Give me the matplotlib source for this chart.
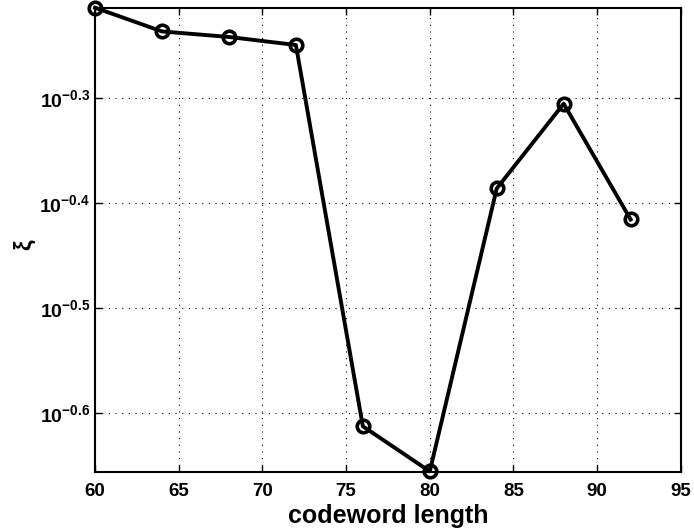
import matplotlib
matplotlib.use('Agg')
import matplotlib.pyplot as plt
import numpy as np

# data
codeword_length = [60, 64, 68, 72, 76, 80, 84, 88, 92]
xi = [0.611, 0.580, 0.573, 0.563, 0.244, 0.221, 0.411, 0.495, 0.384]

xticks = [60, 65, 70, 75, 80, 85, 90, 95]
yexp = [-0.3, -0.4, -0.5, -0.6]
ylabels = [r'$\mathbf{10^{%s}}$' % e for e in ['-0.3', '-0.4', '-0.5', '-0.6']]

plt.rcParams['font.family'] = ['Liberation Sans', 'DejaVu Sans']
plt.rcParams['mathtext.fontset'] = 'custom'
plt.rcParams['mathtext.rm'] = 'Liberation Sans'
plt.rcParams['mathtext.bf'] = 'Liberation Sans:bold'

fig = plt.figure(figsize=(6.94, 5.30), dpi=100)
ax = fig.add_axes([0.137, 0.1094, 0.844, 0.8764])

ax.plot(codeword_length, xi, color='black', linewidth=2.8,
        marker='o', markersize=9, markerfacecolor='none',
        markeredgewidth=2.6, clip_on=False, zorder=3)

ax.set_yscale('log')
ax.set_xlim(60, 95)
ax.set_ylim(10 ** -0.6562, 10 ** -0.2138)
ax.set_xticks(xticks)
ax.set_xticklabels([str(t) for t in xticks], fontsize=13.5, fontweight='bold')
ax.set_yticks([10 ** e for e in yexp])
ax.set_yticklabels(ylabels, fontsize=14)
ax.yaxis.set_minor_locator(matplotlib.ticker.NullLocator())

ax.tick_params(direction='in', top=True, right=True, length=5, width=1)
ax.tick_params(axis='x', pad=8)
ax.grid(True, linestyle=(0, (1, 5)), color='black', linewidth=0.8)
for s in ax.spines.values():
    s.set_linewidth(1.5)

ax.set_xlabel('codeword length', fontsize=18, fontweight='bold', labelpad=3)
ax.set_ylabel(r'$\mathbf{\xi}$', fontsize=17, rotation=90)
ax.yaxis.set_label_coords(-0.097, 0.49)

fig.savefig('out.png', dpi=100)
